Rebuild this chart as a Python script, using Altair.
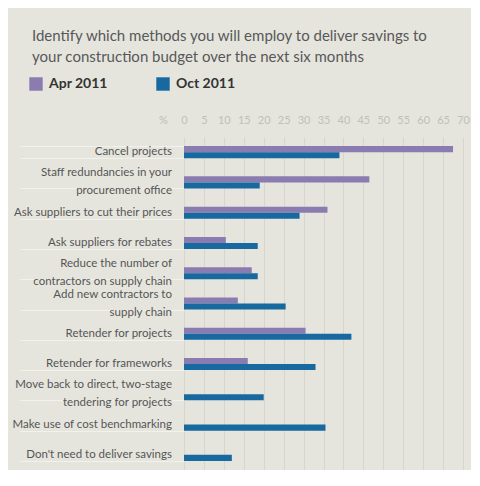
import altair as alt
import pandas as pd

categories = [
    "Cancel projects",
    "Staff redundancies in your procurement office",
    "Ask suppliers to cut their prices",
    "Ask suppliers for rebates",
    "Reduce the number of contractors on supply chain",
    "Add new contractors to supply chain",
    "Retender for projects",
    "Retender for frameworks",
    "Move back to direct, two-stage tendering for projects",
    "Make use of cost benchmarking",
    "Don't need to deliver savings",
]
label_lines = [
    ["Cancel projects"],
    ["Staff redundancies in your", "procurement office"],
    ["Ask suppliers to cut their prices"],
    ["Ask suppliers for rebates"],
    ["Reduce the number of", "contractors on supply chain"],
    ["Add new contractors to", "supply chain"],
    ["Retender for projects"],
    ["Retender for frameworks"],
    ["Move back to direct, two-stage", "tendering for projects"],
    ["Make use of cost benchmarking"],
    ["Don't need to deliver savings"],
]
apr_2011 = [67.5, 46.5, 36, 10.5, 17, 13.5, 30.5, 16, None, None, None]
oct_2011 = [39, 19, 29, 18.5, 18.5, 25.5, 42, 33, 20, 35.5, 12]
series = ["Apr 2011", "Oct 2011"]
colors = ["#8a7cb1", "#17699f"]
x_ticks = list(range(0, 75, 5))

rows = []
for c, a, o in zip(categories, apr_2011, oct_2011):
    if a is not None:
        rows.append({"method": c, "series": "Apr 2011", "value": a})
    rows.append({"method": c, "series": "Oct 2011", "value": o})
df = pd.DataFrame(rows)

lab_rows = []
for c, lines in zip(categories, label_lines):
    if len(lines) == 1:
        lab_rows.append({"method": c, "text": lines[0], "kind": "single"})
    else:
        lab_rows.append({"method": c, "text": lines[0], "kind": "first"})
        lab_rows.append({"method": c, "text": lines[1], "kind": "second"})
df_lab = pd.DataFrame(lab_rows)

FONT = "Lato"
BG = "#e5e5de"
TXT = "#555555"

y_enc = alt.Y(
    "method:N",
    sort=categories,
    scale=alt.Scale(paddingInner=0.6, paddingOuter=0.3),
    axis=alt.Axis(
        title=None, domain=False, ticks=True, tickBand="extent",
        tickSize=164, tickColor="#f2f2ec", tickWidth=1,
        labels=False, grid=False,
    ),
)

bars = alt.Chart(df).mark_bar().encode(
    x=alt.X(
        "value:Q",
        scale=alt.Scale(domain=[0, 70], nice=False),
        axis=alt.Axis(
            orient="top", values=x_ticks, domain=False, ticks=False,
            labelFlush=False,
            labelColor="#c0c0b8", labelFontSize=11, labelPadding=12,
            labelFont=FONT, gridColor="#d6d6cf", gridWidth=1,
            title="%", titleColor="#c0c0b8", titleFontSize=11,
            titleFont=FONT, titleFontWeight="normal", titleAngle=0,
            titleX=-21, titleY=-12, titleBaseline="bottom",
        ),
    ),
    y=y_enc,
    yOffset=alt.YOffset("series:N", sort=series,
                        scale=alt.Scale(paddingInner=0, paddingOuter=0)),
    color=alt.Color(
        "series:N",
        scale=alt.Scale(domain=series, range=colors),
        legend=alt.Legend(
            title=None, orient="none", direction="horizontal",
            legendX=-155, legendY=-60, symbolType="square", symbolSize=180,
            symbolStrokeWidth=0, labelFont=FONT, labelFontSize=14,
            labelFontWeight="bold", labelColor="#333333", columnPadding=48,
            labelOffset=6,
        ),
    ),
)


def label_layer(kind, dy):
    return alt.Chart(df_lab).transform_filter(
        alt.datum.kind == kind
    ).mark_text(
        align="right", baseline="middle", dy=dy, font=FONT, fontSize=11.5,
        color=TXT,
    ).encode(
        y=alt.Y("method:N", sort=categories),
        x=alt.value(-12),
        text="text:N",
    )


chart = alt.layer(
    bars,
    label_layer("single", 0),
    label_layer("first", -9),
    label_layer("second", 9),
).properties(
    width=279,
    height=333,
    background=BG,
    padding={"left": 176, "top": 129, "right": 8, "bottom": 0},
    autosize=alt.AutoSizeParams(type="none"),
    title=alt.TitleParams(
        text=["Identify which methods you will employ to deliver savings to",
              "your construction budget over the next six months"],
        anchor="start", frame="group", dx=-152, dy=-8,
        font=FONT, fontSize=15, fontWeight="normal", color="#585858",
        lineHeight=21,
    ),
).configure_view(stroke=None)

chart.save("out.html", embed_options={"renderer": "svg", "actions": False})
